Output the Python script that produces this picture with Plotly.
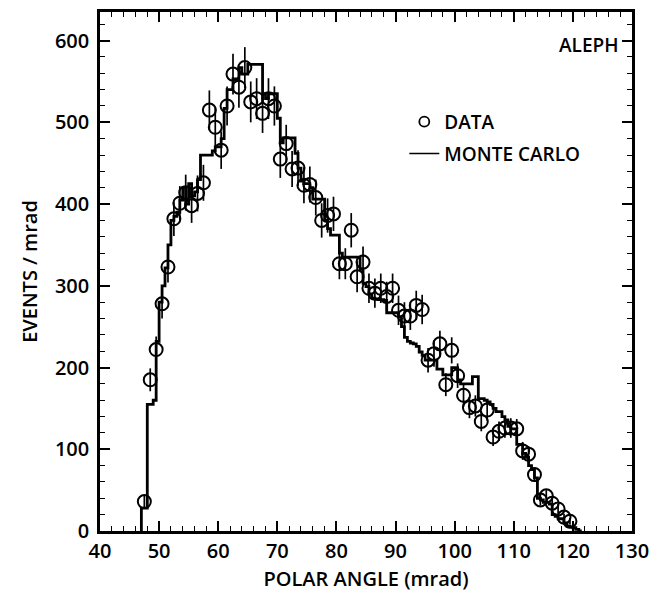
import numpy as np
import plotly.graph_objects as go

# ---- DATA ----
data_x = [47.5 + i for i in range(73)]
data_y = [36, 185, 222, 278, 323, 382, 401, 414, 398, 413, 426, 515, 494, 466, 520,
          559, 543, 567, 525, 529, 511, 529, 520, 455, 474, 443, 444, 423, 424, 408,
          380, 386, 388, 327, 327, 368, 311, 329, 297, 291, 297, 287, 297, 270, 263,
          263, 276, 271, 209, 217, 229, 179, 221, 190, 166, 151, 153, 134, 148, 115,
          122, 126, 126, 125, 98, 94, 69, 38, 43, 34, 27, 17, 12]
data_err = [7, 14, 16, 18, 19, 21, 21, 22, 21, 22, 22, 24, 24, 23, 24,
            25, 25, 25, 25, 25, 24, 25, 24, 23, 23, 22, 22, 22, 22, 22,
            21, 21, 21, 19, 19, 21, 19, 19, 18, 18, 18, 18, 18, 18, 17,
            17, 18, 18, 15, 16, 16, 14, 16, 15, 14, 13, 13, 12, 13, 11,
            12, 12, 12, 12, 11, 10, 9, 7, 7, 6, 6, 4, 4]

mc_start = 47.0
mc_binwidth = 0.5
mc_y = [28, 28, 155, 155, 160, 232, 280, 300, 322, 350, 380, 385, 390, 405, 420, 400,
        425, 410, 415, 430, 460, 460, 460, 460, 465, 470, 470, 480, 517, 540, 540, 553,
        553, 567, 559, 559, 571, 571, 571, 571, 571, 535, 529, 535, 535, 535, 505, 475,
        481, 481, 481, 481, 462, 444, 428, 425, 425, 420, 406, 406, 406, 406, 380, 370,
        362, 362, 362, 340, 335, 335, 335, 335, 335, 335, 320, 303, 299, 290, 285, 284,
        283, 283, 282, 267, 267, 267, 267, 262, 250, 237, 232, 230, 229, 226, 219, 215,
        209, 209, 209, 209, 198, 198, 191, 191, 191, 200, 200, 185, 180, 180, 180, 180,
        189, 189, 162, 162, 160, 158, 155, 150, 146, 146, 140, 136, 128, 125, 125, 106,
        106, 95, 90, 80, 75, 65, 40, 38, 35, 35, 33, 20, 18, 15, 15, 10, 6, 5, 4, 2, 0]

x_ticks = [40, 50, 60, 70, 80, 90, 100, 110, 120, 130]
y_ticks = [0, 100, 200, 300, 400, 500, 600]

# ---- build MC step line ----
mc_edges = [mc_start + mc_binwidth * i for i in range(len(mc_y) + 1)]
mc_line_x = [mc_edges[0]] + mc_edges
mc_line_y = [0] + mc_y + [mc_y[-1]]

FONT = "Open Sans"

fig = go.Figure()
fig.add_trace(go.Scatter(
    x=mc_line_x, y=mc_line_y, mode="lines", line=dict(shape="hv", color="black", width=2.8),
    name="MONTE CARLO", showlegend=False))
fig.add_trace(go.Scatter(
    x=data_x, y=data_y, mode="markers",
    marker=dict(symbol="circle-open", size=13, color="black", line=dict(width=2, color="black")),
    error_y=dict(type="data", array=data_err, visible=True, color="black", thickness=1.7, width=0),
    name="DATA", showlegend=False))

# legend entries (symbols only)
fig.add_trace(go.Scatter(x=[None], y=[None], mode="markers", name="DATA", legendgroup="a",
                         marker=dict(symbol="circle-open", size=10, color="black", line=dict(width=1.8))))
fig.add_trace(go.Scatter(x=[None], y=[None], mode="lines", name="MONTE CARLO", legendgroup="b",
                         line=dict(color="black", width=1.5)))

fig.update_layout(
    width=668, height=597,
    margin=dict(l=100, r=36, t=9, b=63),
    paper_bgcolor="white", plot_bgcolor="white",
    font=dict(family=FONT, color="black", size=16),
    showlegend=True,
    legend=dict(x=0.572, y=0.825, xanchor="left", yanchor="top", bgcolor="rgba(0,0,0,0)",
                font=dict(family=FONT, size=19, weight=600), itemwidth=30, tracegroupgap=4),
    annotations=[dict(text="ALEPH", x=0.978, y=0.937, xref="paper", yref="paper",
                      xanchor="right", yanchor="middle", showarrow=False,
                      font=dict(family=FONT, size=19, weight=600))],
)
fig.update_xaxes(
    range=[40, 130], tickvals=x_ticks, ticktext=[str(v) for v in x_ticks],
    ticks="inside", ticklen=10, tickwidth=1.5, tickcolor="black",
    minor=dict(dtick=2, ticks="inside", ticklen=5, tickwidth=1.2, tickcolor="black"),
    showline=True, linecolor="black", linewidth=2.5, mirror="allticks",
    showgrid=False, zeroline=False,
    tickfont=dict(family=FONT, size=20, weight=600),
    title=dict(text="POLAR ANGLE (mrad)", font=dict(family=FONT, size=20, weight=600), standoff=10),
)
fig.update_yaxes(
    range=[0, 635], tickvals=y_ticks, ticktext=[str(v) for v in y_ticks],
    ticks="inside", ticklen=10, tickwidth=1.5, tickcolor="black",
    minor=dict(dtick=20, ticks="inside", ticklen=5, tickwidth=1.2, tickcolor="black"),
    showline=True, linecolor="black", linewidth=2.5, mirror="allticks",
    showgrid=False, zeroline=False,
    tickfont=dict(family=FONT, size=20, weight=600),
    ticklabelstandoff=4,
    title=dict(text="EVENTS / mrad", font=dict(family=FONT, size=20, weight=600), standoff=12),
)

fig.write_html("out.html")
